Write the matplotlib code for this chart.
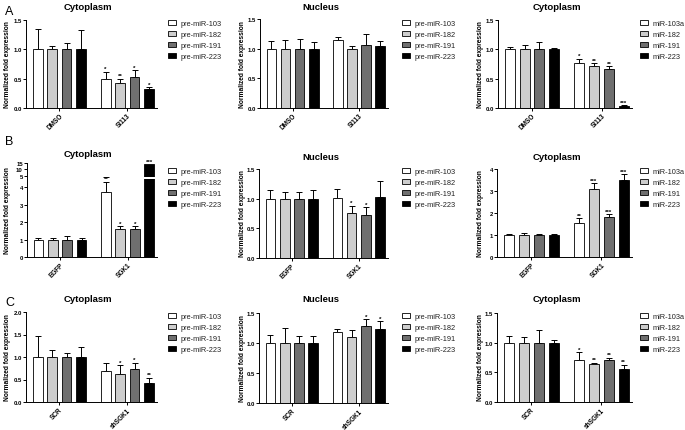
import matplotlib
matplotlib.use("Agg")
import matplotlib.pyplot as plt
from matplotlib.patches import Patch
import numpy as np

plt.rcParams['font.family'] = ['Liberation Sans', 'DejaVu Sans']

W, H = 685, 431

# ---- data ----
groups_A = ["DMSO", "SI113"]
groups_B = ["EGFP", "SGK1"]
groups_C = ["SCR", "shSGK1"]
pre_labels = ["pre-miR-103", "pre-miR-182", "pre-miR-191", "pre-miR-223"]
mat_labels = ["miR-103a", "miR-182", "miR-191", "miR-223"]

# A: cytoplasm, precursors
a1_mean = [[1, 1, 1, 1], [0.50, 0.43, 0.53, 0.33]]
a1_err = [[0.35, 0.06, 0.11, 0.33], [0.12, 0.07, 0.11, 0.03]]
a1_star = [["", "", "", ""], ["*", "**", "*", "*"]]
# A: nucleus, precursors
a2_mean = [[1, 1, 1, 1], [1.14, 0.99, 1.06, 1.04]]
a2_err = [[0.13, 0.14, 0.17, 0.12], [0.06, 0.06, 0.19, 0.09]]
a2_star = [["", "", "", ""], ["", "", "", ""]]
# A: cytoplasm, mature
a3_mean = [[1, 1, 1, 1], [0.76, 0.71, 0.66, 0.04]]
a3_err = [[0.04, 0.08, 0.12, 0.03], [0.08, 0.05, 0.05, 0.01]]
a3_star = [["", "", "", ""], ["*", "**", "**", "***"]]

# B
b1_mean = [[1, 1, 1, 1], [3.71, 1.60, 1.58, 14.0]]
b1_err = [[0.10, 0.10, 0.18, 0.09], [0.61, 0.17, 0.19, 0.0]]
b1_star = [["", "", "", ""], ["**", "*", "*", "***"]]
b2_mean = [[1, 1, 1, 1], [1.01, 0.76, 0.72, 1.02]]
b2_err = [[0.14, 0.12, 0.11, 0.14], [0.15, 0.12, 0.14, 0.28]]
b2_star = [["", "", "", ""], ["", "*", "*", ""]]
b3_mean = [[1, 1, 1, 1], [1.55, 3.09, 1.81, 3.52]]
b3_err = [[0.03, 0.10, 0.04, 0.04], [0.22, 0.28, 0.14, 0.24]]
b3_star = [["", "", "", ""], ["**", "***", "***", "***"]]

# C
c1_mean = [[1, 1, 1, 1], [0.70, 0.63, 0.73, 0.43]]
c1_err = [[0.46, 0.16, 0.09, 0.22], [0.16, 0.19, 0.14, 0.11]]
c1_star = [["", "", "", ""], ["", "*", "*", "**"]]
c2_mean = [[1, 1, 1, 1], [1.19, 1.10, 1.28, 1.24]]
c2_err = [[0.14, 0.25, 0.12, 0.11], [0.04, 0.11, 0.12, 0.12]]
c2_star = [["", "", "", ""], ["", "", "*", "*"]]
c3_mean = [[1, 1, 1, 1], [0.71, 0.64, 0.71, 0.55]]
c3_err = [[0.11, 0.10, 0.22, 0.04], [0.13, 0.02, 0.04, 0.08]]
c3_star = [["", "", "", ""], ["*", "**", "**", "**"]]

colors = ["white", "#cdcdcd", "#6f6f6f", "black"]
group_pos = [0.0, 4.7]
offsets = [-1.5, -0.5, 0.5, 1.5]
bw = 0.68

fig = plt.figure(figsize=(W / 100, H / 100), dpi=100)


def new_ax(l, t, r, b):
    ax = fig.add_axes([l / W, 1 - b / H, (r - l) / W, (b - t) / H])
    ax.patch.set_visible(False)
    return ax


def style(ax, ylim, yticks, ylabels, bottom=True):
    ax.set_xlim(-2.3, 6.75)
    ax.set_ylim(*ylim)
    ax.set_yticks(yticks)
    ax.set_yticklabels(ylabels, fontsize=4.3, fontweight='bold')
    for s in ['top', 'right']:
        ax.spines[s].set_visible(False)
    ax.spines['left'].set_linewidth(0.7)
    ax.spines['bottom'].set_linewidth(0.7)
    ax.tick_params(axis='y', length=2, width=0.7, pad=1)
    if bottom:
        ax.set_xticks(group_pos)
        ax.tick_params(axis='x', length=2, width=0.7, pad=1)
    else:
        ax.spines['bottom'].set_visible(False)
        ax.set_xticks([])


def bars(ax, means, errs, stars, star_ax=None, star_limit=None):
    for g in range(2):
        for i in range(4):
            x = group_pos[g] + offsets[i]
            m = means[g][i]
            e = errs[g][i]
            ax.bar(x, m, width=bw, color=colors[i], edgecolor='black', linewidth=0.6, zorder=2)
            if e > 0:
                ax.errorbar(x, m, yerr=[[0], [e]], fmt='none', ecolor='black',
                            elinewidth=0.7, capsize=2.2, capthick=0.7, zorder=1)
            if stars[g][i]:
                tgt = ax
                if star_ax is not None and m > star_limit:
                    tgt = star_ax
                tgt.annotate(stars[g][i], (x, m + e), xytext=(0, 0.3), textcoords='offset points',
                             ha='center', va='bottom', fontsize=4.5, fontweight='bold', zorder=5)


def xlabels(ax, groups):
    ax.set_xticklabels(groups, rotation=45, ha='right', rotation_mode='anchor',
                       fontsize=4.7, fontweight='bold')


def legend(labels, x, y):
    handles = [Patch(facecolor=c, edgecolor='black', linewidth=0.6) for c in colors]
    fig.legend(handles, labels, loc='upper left', bbox_to_anchor=(x / W, 1 - y / H),
               frameon=False, fontsize=5.3, handlelength=1.1, handleheight=0.75,
               labelspacing=0.5, handletextpad=0.6, borderpad=0, borderaxespad=0,
               labelcolor='#222222')


def title(text, x, y):
    fig.text(x / W, 1 - y / H, text, ha='center', va='center', fontsize=6.8, fontweight='bold')


def ylab(x, y):
    fig.text(x / W, 1 - y / H, "Normalized fold expression", rotation=90, ha='center',
             va='center', fontsize=4.8, fontweight='bold')


t15 = [0, 0.5, 1.0, 1.5]
l15 = ["0.0", "0.5", "1.0", "1.5"]

# ---- row A ----
ax = new_ax(26, 21, 157, 109)
bars(ax, a1_mean, a1_err, a1_star)
style(ax, (0, 1.5), t15, l15)
xlabels(ax, groups_A)

ax = new_ax(260, 20, 388, 109)
bars(ax, a2_mean, a2_err, a2_star)
style(ax, (0, 1.5), t15, l15)
xlabels(ax, groups_A)

ax = new_ax(498, 21, 632, 109)
bars(ax, a3_mean, a3_err, a3_star)
style(ax, (0, 1.5), t15, l15)
xlabels(ax, groups_A)

# ---- row B (broken y axis in the first panel) ----
ax_up = new_ax(27, 164, 157, 177.5)
ax_lo = new_ax(27, 179.5, 157, 258)
bars(ax_lo, b1_mean, b1_err, b1_star, star_ax=ax_up, star_limit=4.5)
bars(ax_up, b1_mean, b1_err, [["", "", "", ""], ["", "", "", ""]])
style(ax_lo, (0, 4.5), [0, 1, 2, 3, 4], ["0", "1", "2", "3", "4"])
style(ax_up, (4.5, 15), [5, 10, 15], ["5", "10", "15"], bottom=False)
xlabels(ax_lo, groups_B)

ax = new_ax(259, 170, 388, 259)
bars(ax, b2_mean, b2_err, b2_star)
style(ax, (0, 1.5), t15, l15)
xlabels(ax, groups_B)

ax = new_ax(497, 170, 632, 258)
bars(ax, b3_mean, b3_err, b3_star)
style(ax, (0, 4), [0, 1, 2, 3, 4], ["0", "1", "2", "3", "4"])
xlabels(ax, groups_B)

# ---- row C ----
ax = new_ax(26, 313, 157, 403)
bars(ax, c1_mean, c1_err, c1_star)
style(ax, (0, 2.0), [0, 0.5, 1.0, 1.5, 2.0], ["0.0", "0.5", "1.0", "1.5", "2.0"])
xlabels(ax, groups_C)

ax = new_ax(259, 314, 388, 404)
bars(ax, c2_mean, c2_err, c2_star)
style(ax, (0, 1.5), t15, l15)
xlabels(ax, groups_C)

ax = new_ax(497, 314, 632, 403)
bars(ax, c3_mean, c3_err, c3_star)
style(ax, (0, 1.5), t15, l15)
xlabels(ax, groups_C)

# titles
for (x, y, t) in [(88, 8, "Cytoplasm"), (321, 8, "Nucleus"), (557, 8, "Cytoplasm"),
                  (88, 155, "Cytoplasm"), (321, 157, "Nucleus"), (557, 157, "Cytoplasm"),
                  (88, 300, "Cytoplasm"), (321, 300, "Nucleus"), (557, 300, "Cytoplasm")]:
    title(t, x, y)

# y labels
for (x, y) in [(8, 65), (243, 65), (480, 65), (8, 211), (243, 214), (480, 214),
               (8, 358), (243, 359), (480, 358)]:
    ylab(x, y)

# legends
for y in [21, 169, 314]:
    legend(pre_labels, 168, y)
    legend(pre_labels, 402, y)
    legend(mat_labels, 640, y)

# panel letters
fig.text(5 / W, 1 - 12 / H, "A", fontsize=9, va='center', ha='left')
fig.text(5 / W, 1 - 142 / H, "B", fontsize=9, va='center', ha='left')
fig.text(5 / W, 1 - 303 / H, "C", fontsize=9, va='center', ha='left')

fig.savefig("out.png", dpi=100)
